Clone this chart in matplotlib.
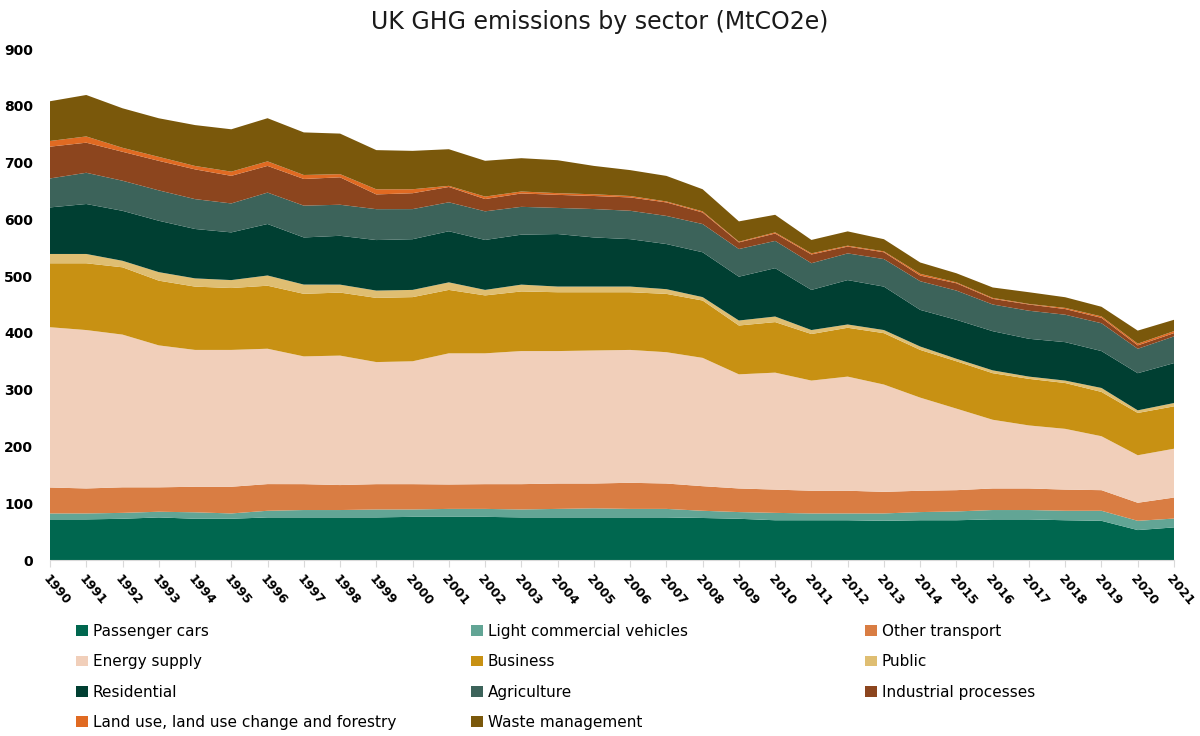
import matplotlib
matplotlib.use("Agg")
import matplotlib.pyplot as plt
from matplotlib.patches import Patch
import numpy as np

# UK GHG emissions by sector, MtCO2e
years = list(range(1990, 2022))

passenger_cars = [71.5, 71.5, 72.6, 75, 72.6, 72.6, 75, 75, 75, 75, 76, 76, 76, 75, 75, 75,
                  75, 75, 74, 72.6, 70, 70, 70, 69, 70, 70, 71.5, 71.5, 70, 69, 52.7, 57.4]
light_commercial = [10.5, 10.5, 10.4, 10, 11.4, 9.4, 11.7, 13, 13, 14, 13, 14, 14, 14, 15, 16,
                    15, 15, 12.7, 11.8, 13, 12, 12, 13, 14.4, 15.5, 16.5, 16.5, 16.7, 17.7, 16.3, 15.6]
other_transport = [45.7, 44, 45, 43, 45, 47, 47, 45.6, 44, 44.6, 44.6, 43, 43.6, 44.6, 44.7, 43.7,
                   46, 44.7, 43.3, 41.6, 41, 40, 40, 38, 37.6, 37.5, 38, 38, 37.3, 36.3, 31.8, 37]
energy_supply = [282.3, 279, 269, 250, 241, 241, 238.4, 225, 228, 215, 216.4, 231, 230.4, 234.4, 233.3, 234.3,
                 234, 231.3, 226, 201, 206, 194, 201, 189, 164, 143.6, 121, 111, 107, 95, 83.7, 86]
business = [112.6, 117.6, 118.5, 114, 111.5, 109, 111, 110.2, 111, 113, 113, 111.7, 102, 105, 103.6, 102.6,
            101.6, 102.7, 101, 86, 89, 82, 86, 90.5, 84, 83.4, 82, 82, 80.7, 78, 74.5, 74.6]
public = [16.4, 16.4, 11.5, 15, 14.5, 14, 18, 16.3, 14, 12.9, 12.7, 13.3, 9.7, 12, 10, 10,
          10, 8.3, 6, 8.8, 9.8, 7, 5.8, 5.5, 6, 4.4, 5, 4, 4.3, 7, 4.6, 5.9]
residential = [82, 88, 88, 90.5, 87, 84, 90.7, 83, 86, 89, 89.3, 90, 88, 88, 92.5, 86.5,
               83.5, 79.5, 79, 77.2, 85.2, 70.7, 78.2, 76.5, 64.5, 68.6, 69, 66.6, 67.7, 65, 65.4, 70.3]
agriculture = [51, 55, 53, 53.5, 52.6, 51, 55.3, 56, 54.7, 54.4, 53, 51, 50.4, 49, 46, 50,
               50, 49.5, 49.7, 48.7, 48, 47, 47, 48.5, 50.5, 51.5, 47, 49.4, 48.3, 49, 43, 47]
industrial = [56, 53, 51, 52, 52.4, 48.6, 47, 47, 48.3, 26, 28, 27, 21.6, 23.6, 23, 23,
              23.5, 23.8, 20.3, 11.7, 13, 15.4, 12, 12, 10, 12.9, 10, 11, 10, 9.5, 6, 5.8]
lulucf = [10, 11, 7, 7, 6, 7.4, 8, 7, 5.6, 9, 7, 2, 4.4, 3.4, 3, 3,
          2.5, 1.7, 2, 1.2, 2, 2, 1.6, 1.6, 3, 1.6, 1.6, 1, 2, 2.5, 3, 3.5]
waste = [70, 73, 69.6, 68, 72, 74.6, 76, 75, 71.4, 69, 67.6, 64.5, 63, 58.7, 58, 50,
         45.6, 45, 39, 35.8, 31, 23.6, 25.2, 21.4, 20, 16, 18.4, 20.6, 18.8, 17, 23, 20]

labels = ["Passenger cars", "Light commercial vehicles", "Other transport",
          "Energy supply", "Business", "Public",
          "Residential", "Agriculture", "Industrial processes",
          "Land use, land use change and forestry", "Waste management"]
colors = ["#00674F", "#62A595", "#D97D43",
          "#F1CFBA", "#C89113", "#DFBE72",
          "#003F32", "#3C635A", "#8C451E",
          "#E06A22", "#7A580B"]

series = [passenger_cars, light_commercial, other_transport, energy_supply, business,
          public, residential, agriculture, industrial, lulucf, waste]

fig = plt.figure(figsize=(12, 7.36), dpi=100)
ax = fig.add_axes([50 / 1200, 1 - 560 / 736, 1124 / 1200, 511 / 736])

ax.stackplot(years, *series, colors=colors, linewidth=0)

ax.set_xlim(1990, 2021)
ax.set_ylim(0, 900)
ax.set_yticks(range(0, 901, 100))
ax.set_xticks(years)
ax.set_xticklabels([str(y) for y in years], rotation=-50, ha="left", va="top",
                   rotation_mode="anchor", fontsize=9, fontweight="bold")
for lab in ax.get_yticklabels():
    lab.set_fontweight("bold")
    lab.set_fontsize(10)

for side in ["top", "right", "left"]:
    ax.spines[side].set_visible(False)
ax.spines["bottom"].set_color("#D9D9D9")
ax.tick_params(axis="y", length=0, pad=12)
ax.tick_params(axis="x", length=5, color="#D9D9D9", pad=4)

fig.text(0.5, 1 - 22 / 736, "UK GHG emissions by sector (MtCO2e)", ha="center", va="center",
         fontsize=17, color="#1a1a1a")

# legend: three columns laid out row by row like the original
handles = [Patch(facecolor=c, edgecolor="none", label=l) for c, l in zip(colors, labels)]
col_x = [76 / 1200, 471 / 1200, 865 / 1200]
for i, x in enumerate(col_x):
    sub = handles[i::3]
    fig.legend(handles=sub, loc="upper left", bbox_to_anchor=(x, 1 - 624 / 736),
               frameon=False, fontsize=11, handlelength=0.8, handleheight=0.7,
               handletextpad=0.3, labelspacing=1.0, borderaxespad=0, borderpad=0)

fig.savefig("out.png", dpi=100)
